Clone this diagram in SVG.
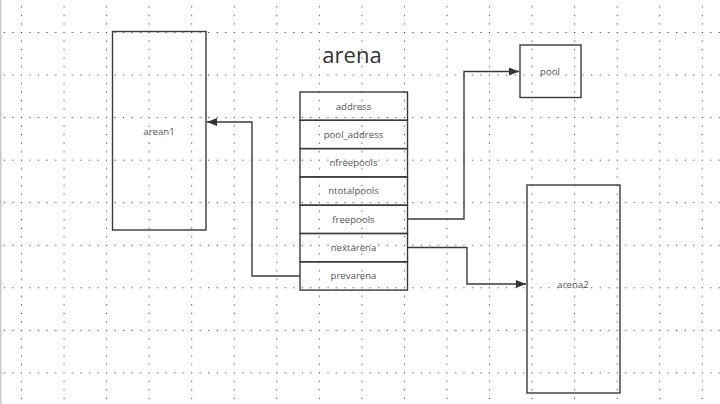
<svg xmlns="http://www.w3.org/2000/svg" width="720" height="404" viewBox="0 0 720 404">
<style>
.box{fill:none;stroke:#3a3a3a;stroke-width:1.4}
.lbl{font-family:"Open Sans","Noto Sans",sans-serif;font-size:9.6px;fill:#555;text-anchor:middle}
.title{font-family:"Open Sans","Noto Sans",sans-serif;font-size:22px;fill:#333;text-anchor:middle}
.conn{fill:none;stroke:#3a3a3a;stroke-width:1.4}
</style>
<defs>
<pattern id="grid" x="21" y="32" width="42.55" height="42.55" patternUnits="userSpaceOnUse">
<g fill="#1a1a1a">
<rect x="0" y="0" width="1" height="1"/>
<rect x="0" y="8.51" width="1" height="1"/>
<rect x="0" y="17.02" width="1" height="1"/>
<rect x="0" y="25.53" width="1" height="1"/>
<rect x="0" y="34.04" width="1" height="1"/>
<rect x="8.51" y="0" width="1" height="1"/>
<rect x="17.02" y="0" width="1" height="1"/>
<rect x="25.53" y="0" width="1" height="1"/>
<rect x="34.04" y="0" width="1" height="1"/>
</g>
</pattern>
<marker id="arr" viewBox="0 0 10 8" refX="10" refY="4" markerWidth="10" markerHeight="8" markerUnits="userSpaceOnUse" orient="auto">
<path d="M0,0 L10,4 L0,8 Z" fill="#333"/>
</marker>
</defs>
<rect x="0" y="0" width="720" height="404" fill="#fff"/>
<rect x="0" y="0" width="720" height="404" fill="url(#grid)"/>
<rect x="0" y="0" width="1.5" height="404" fill="#c8c8c8"/>

<g id="title"><text class="title" x="352" y="63">arena</text></g>

<g id="connectors">
<path class="conn" d="M407,219 H464 V71.5 H519" marker-end="url(#arr)"/>
<path class="conn" d="M407,247.5 H467 V284 H526" marker-end="url(#arr)"/>
<path class="conn" d="M300,276 H252 V122 H207" marker-end="url(#arr)"/>
</g>

<g id="arean1">
<rect class="box" x="112.5" y="31.5" width="93.5" height="198.5"/>
<text class="lbl" x="159" y="135">arean1</text>
</g>

<g id="pool">
<rect class="box" x="520" y="45" width="61" height="52.5"/>
<text class="lbl" x="550" y="75">pool</text>
</g>

<g id="arena2">
<rect class="box" x="527" y="185" width="93" height="208"/>
<text class="lbl" x="573" y="288">arena2</text>
</g>

<g id="arena">
<g id="row-address"><rect class="box" x="300" y="92" width="107.5" height="28.3"/><text class="lbl" x="353.5" y="109.5">address</text></g>
<g id="row-pool_address"><rect class="box" x="300" y="120.3" width="107.5" height="28.3"/><text class="lbl" x="353.5" y="137.8">pool_address</text></g>
<g id="row-nfreepools"><rect class="box" x="300" y="148.6" width="107.5" height="28.3"/><text class="lbl" x="353.5" y="166.1">nfreepools</text></g>
<g id="row-ntotalpools"><rect class="box" x="300" y="176.9" width="107.5" height="28.3"/><text class="lbl" x="353.5" y="194.4">ntotalpools</text></g>
<g id="row-freepools"><rect class="box" x="300" y="205.2" width="107.5" height="28.3"/><text class="lbl" x="353.5" y="222.7">freepools</text></g>
<g id="row-nextarena"><rect class="box" x="300" y="233.5" width="107.5" height="28.3"/><text class="lbl" x="353.5" y="251">nextarena</text></g>
<g id="row-prevarena"><rect class="box" x="300" y="261.8" width="107.5" height="28.3"/><text class="lbl" x="353.5" y="279.3">prevarena</text></g>
</g>
</svg>
